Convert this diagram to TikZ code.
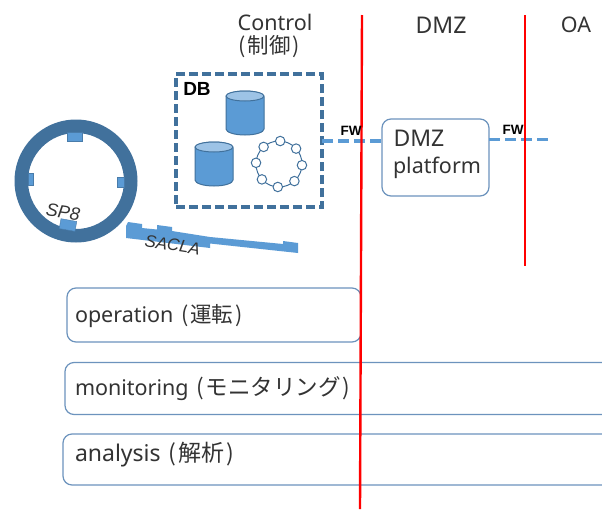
\documentclass[tikz,border=0pt]{standalone}
\usepackage{fontspec}
\usetikzlibrary{calc}
\setmainfont{Noto Sans}
\newfontfamily\jp{Noto Sans CJK JP}
\newfontfamily\ital{Liberation Sans}
\definecolor{ringblue}{HTML}{41719C}
\definecolor{fillblue}{HTML}{5B9BD5}
\definecolor{lightblue}{HTML}{9DC3E6}
\definecolor{boxline}{HTML}{6C93BD}
\definecolor{txt}{HTML}{333333}
\newcommand{\po}{\hspace{2pt}(\hspace{2pt}}
\newcommand{\pc}{\hspace{2pt})}
\tikzset{
  x=1pt,y=-1pt,
  every node/.style={inner sep=0pt,outer sep=0pt,text=txt},
  lane/.style={draw=boxline,line width=1.2pt,rounded corners=9pt,minimum height=#1},
  redline/.style={draw=red,line width=2.4pt},
  link/.style={draw=fillblue,line width=3.2pt,dash pattern=on 11pt off 5pt},
  big/.style={font=\fontsize{21.5}{26}\selectfont},
  fwlabel/.style={font=\fontsize{13.5}{15}\selectfont\ital\bfseries,text=black},
  ringlabel/.style={font=\fontsize{17}{19}\selectfont\ital\itshape},
  store/.style={draw=ringblue,line width=1pt,fill=fillblue},
  peer/.style={circle,draw=ringblue,line width=1pt,fill=white,minimum size=9.5pt},
  port/.style={fill=fillblue,draw=fillblue!80!black,line width=.4pt}
}
\newcommand{\cyl}[3]{% left x, top y, bottom y
  \path[store] (#1,#2+6) -- (#1,#3-6) arc[start angle=180,end angle=360,x radius=19,y radius=-6] -- (#1+38,#2+6)
     arc[start angle=0,end angle=180,x radius=19,y radius=-6] -- cycle;
  \path[draw=ringblue,line width=1pt,fill=lightblue] (#1+19,#2+5) ellipse[x radius=19,y radius=5];
}
\begin{document}
\begin{tikzpicture}
\useasboundingbox (0,0) rectangle (602,509);
\clip (0,0) rectangle (602,509);
\fill[white] (0,0) rectangle (602,509);
% zone titles
\node[big] (control) at (275,22) {Control};
\node[big,font=\fontsize{21.5}{26}\selectfont\jp] (controljp) at (269,47) {(\hspace{2pt}制御\hspace{2pt})};
\node[font=\fontsize{23}{26}\selectfont] (dmz) at (441,25) {DMZ};
\node[big] (oa) at (576,25) {OA};
% ring
\path[fill=ringblue,even odd rule] (76,181) circle[radius=61.5] (76,181) circle[radius=48];
\path[port] (67,132) rectangle (82,141);
\path[port] (28,173) rectangle (33,185);
\path[port] (117,177) rectangle (124,187);
\path[port,rotate around={-10:(68,225)}] (60,220) rectangle (76,230);
\node[ringlabel,rotate=-8] (sp8) at (63,212) {\fontsize{18}{20}\selectfont SP8};
% linac
\path[fill=fillblue] (126,226) -- (128,222) -- (142,224) -- (142,228) -- (157,229.5) -- (157,225) -- (172,227) -- (172,231) -- (210,237) -- (283,244) -- (283,241) -- (298,243) -- (298,253) -- (210,243.5) -- (210,248) -- (126,238) -- cycle;
\node[ringlabel,rotate=-9] (sacla) at (172.5,245) {SACLA};
% DB
\node[draw=ringblue,line width=3.3pt,dash pattern=on 9pt off 4pt,minimum width=146pt,minimum height=133pt] (db) at (249,140.5) {};
\node[font=\fontsize{19}{21}\selectfont\ital\bfseries,text=black] (dblabel) at (197,89) {DB};
\cyl{226}{91}{135}
\cyl{195}{142}{186}
\coordinate (ringc) at (279,164);
\draw[ringblue,line width=1pt] (ringc) circle[radius=23];
\foreach \a in {0,45,...,315}{\node[peer] (peer\a) at ($(ringc)+(\a+3:23)$) {};}
% DMZ platform
\node[draw=boxline,line width=1.2pt,rounded corners=9pt,minimum width=107pt,minimum height=77pt] (plat) at (435.5,157.5) {};
\node[anchor=base west,font=\fontsize{23}{26}\selectfont] (platA) at (393.5,146) {DMZ};
\node[anchor=base west,big] (platB) at (393,173) {platform};
% lanes
\node[lane=54pt,minimum width=294pt] (op) at (214,315) {};
\node[lane=52pt,minimum width=555pt] (mon) at (342.5,388.5) {};
\node[lane=51pt,minimum width=557pt] (ana) at (341.5,459.5) {};
\node[anchor=base west,big] (opt) at (75,322) {operation {\jp\po 運転\pc}};
\node[anchor=base west,big] (mont) at (75,395) {monitoring {\jp\fontsize{22.5}{26}\selectfont\po モニタリング\pc}};
\node[anchor=base west,font=\fontsize{23}{26}\selectfont] (anat) at (75,461) {analysis {\jp\po 解析\pc}};
% firewalls
\coordinate (a1) at (362,15); \coordinate (a2) at (360,509);
\coordinate (b1) at (525,15); \coordinate (b2) at (525,266);
\coordinate (oaend) at (550,139.5);
\draw[link] (db.east |- 0,141) -- (plat.west |- 0,141);
\draw[link] (plat.east |- 0,139.5) -- (oaend);
\draw[redline] (a1) -- (a2);
\draw[redline] (b1) -- (b2);
\node[fwlabel] (fw1) at (351,131) {FW};
\node[fwlabel] (fw2) at (513,130) {FW};
\end{tikzpicture}
\end{document}
